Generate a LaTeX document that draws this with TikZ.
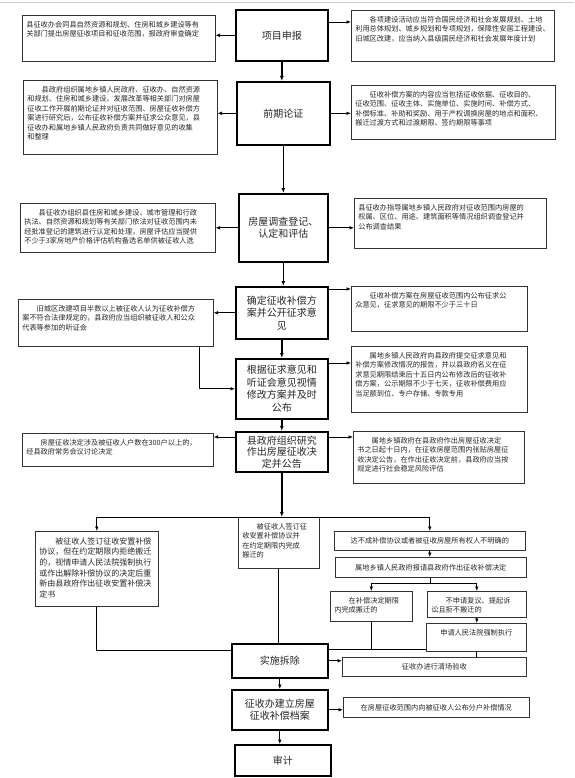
\documentclass[tikz,border=0pt]{standalone}
\usepackage{fontspec}
\newfontfamily\cjk{Noto Sans CJK SC}
\usetikzlibrary{arrows.meta}
\newcommand{\notetext}[3]{\parbox[t][\dimexpr#2pt-12pt\relax][t]{\dimexpr#1pt-8pt\relax}{#3}}
\newcommand{\ind}{\hspace*{2em}}
\hfuzz=50pt \vfuzz=50pt \hbadness=10000 \vbadness=10000

\begin{document}
\begin{tikzpicture}[x=1pt,y=-1pt,
    stage/.style={draw,line width=1.6pt,anchor=north west,inner sep=0pt,align=center,text=black!85,font=\cjk\fontsize{10}{12.5}\selectfont},
    note/.style={draw=black!80,line width=0.6pt,anchor=north west,inner xsep=4pt,inner ysep=6pt,text=black!85,font=\cjk\fontsize{7.2}{9.4}\selectfont},
    memo/.style={draw=black!80,line width=0.6pt,anchor=north west,inner sep=0pt,align=center,text=black!85,font=\cjk\fontsize{7.2}{9.4}\selectfont},
    link/.style={line width=0.7pt,-{Latex[length=4.5pt,width=3.6pt]}},
    spine/.style={line width=1.4pt,-{Latex[length=5pt,width=4pt]}},
    wire/.style={line width=0.7pt}
    ]
  \useasboundingbox (0,0) rectangle (574,778);
  \draw[black!20] (0,2) -- (574,2);

  \node(apply) [stage,minimum width=92pt,minimum height=51pt] at (235,9) {项目申报};
  \node(applyLeft) [note] at (22,15) {\notetext{193}{46}{县征收办会同县自然资源和规划、住房和城乡建设等有\\关部门提出房屋征收项目和征收范围，报政府审查确定}};
  \node(applyRight) [note] at (351,10) {\notetext{203}{51}{\ind 各项建设活动应当符合国民经济和社会发展规划、土地\\利用总体规划、城乡规划和专项规划，保障性安居工程建设、\\旧城区改建，应当纳入县级国民经济和社会发展年度计划}};

  \node(study) [stage,minimum width=93pt,minimum height=63pt] at (236,81) {前期论证};
  \node(studyLeft) [note] at (23,80) {\notetext{194}{74}{\ind 县政府组织属地乡镇人民政府、征收办、自然资源\\和规划、住房和城乡建设、发展改革等相关部门对房屋\\征收工作开展前期论证并对征收范围、房屋征收补偿方\\案进行研究后，公布征收补偿方案并征求公众意见，县\\征收办和属地乡镇人民政府负责共同做好意见的收集\\和整理}};
  \node(studyRight) [note] at (351,85) {\notetext{204}{54}{\ind 征收补偿方案的内容应当包括征收依据、征收目的、\\征收范围、征收主体、实施单位、实施时间、补偿方式、\\补偿标准、补助和奖励、用于产权调换房屋的地点和面积、\\搬迁过渡方式和过渡期限、签约期限等事项}};

  \node(survey) [stage,minimum width=89pt,minimum height=68pt] at (238,193) {房屋调查登记、\\认定和评估};
  \node(surveyLeft) [note] at (20,203) {\notetext{195}{49}{\ind 县征收办组织县住房和城乡建设、城市管理和行政\\执法、自然资源和规划等有关部门依法对征收范围内未\\经批准登记的建筑进行认定和处理，房屋评估应当提供\\不少于3家房地产价格评估机构备选名单供被征收人选}};
  \node(surveyRight) [note] at (354,198) {\notetext{192}{50}{县征收办指导属地乡镇人民政府对征收范围内房屋的\\权属、区位、用途、建筑面积等情况组织调查登记并\\公布调查结果}};

  \node(plan) [stage,minimum width=92pt,minimum height=52pt] at (235,286) {确定征收补偿方\\案并公开征求意\\见};
  \node(planRight) [note] at (351,286) {\notetext{176}{45}{\ind 征收补偿方案在房屋征收范围内公布征求公\\众意见，征求意见的期限不少于三十日}};
  \node(planLeft) [note] at (18,299) {\notetext{195}{47}{\ind 旧城区改建项目半数以上被征收人认为征收补偿方\\案不符合法律规定的，县政府应当组织被征收人和公众\\代表等参加的听证会}};

  \node(revise) [stage,minimum width=92pt,minimum height=60pt] at (235,358) {根据征求意见和\\听证会意见视情\\修改方案并及时\\公布};
  \node(reviseRight) [note] at (351,346) {\notetext{176}{66}{\ind 属地乡镇人民政府向县政府提交征求意见和\\补偿方案修改情况的报告，并以县政府名义在征\\求意见期限结束后十五日内公布修改后的征收补\\偿方案，公示期限不少于七天，征收补偿费用应\\当足额到位、专户存储、专款专用}};

  \node(decide) [stage,minimum width=92pt,minimum height=40pt,font=\cjk\fontsize{10}{11.5}\selectfont] at (235,431) {县政府组织研究\\作出房屋征收决\\定并公告};
  \node(decideLeft) [note] at (22,433) {\notetext{191}{33}{\ind 房屋征收决定涉及被征收人户数在300户以上的，\\经县政府常务会议讨论决定}};
  \node(decideRight) [note] at (353,431) {\notetext{171}{52}{\ind 属地乡镇政府在县政府作出房屋征收决定\\书之日起十日内，在征收房屋范围内张贴房屋征\\收决定公告，在作出征收决定前，县政府应当按\\规定进行社会稳定风险评估}};

  \node(signLeft) [note,font=\cjk\fontsize{8}{10.7}\selectfont] at (35,531) {\notetext{123}{75}{\ind 被征收人签订征收安置补偿\\协议，但在约定期限内拒绝搬迁\\的，视情申请人民法院强制执行\\或作出解除补偿协议的决定后重\\新由县政府作出征收安置补偿决\\定书}};
  \node(signMid) [note] at (238,517) {\notetext{81}{51}{\ind 被征收人签订征\\收安置补偿协议并\\在约定期限内完成\\搬迁的}};
  \node(noDeal) [memo,minimum width=191pt,minimum height=19pt] at (334,531) {达不成补偿协议或者被征收房屋所有权人不明确的};
  \node(report) [memo,minimum width=191pt,minimum height=20pt] at (335,557) {属地乡镇人民政府报请县政府作出征收补偿决定};
  \node(moved) [note] at (330,591) {\notetext{82}{30}{\ind 在补偿决定期限\\内完成搬迁的}};
  \node(refuse) [note] at (427,591) {\notetext{99}{26}{\ind 不申请复议、提起诉\\讼且拒不搬迁的}};
  \node(court) [note] at (426,623) {\notetext{100}{28}{\centering 申请人民法院强制执行}};

  \node(demolish) [stage,minimum width=96pt,minimum height=34pt] at (231,643) {实施拆除};
  \node(clearance) [memo,minimum width=184pt,minimum height=19pt] at (342,657) {征收办进行清场验收};
  \node(archive) [stage,minimum width=96pt,minimum height=40pt,font=\cjk\fontsize{10}{11.5}\selectfont] at (231,689) {征收办建立房屋\\征收补偿档案};
  \node(archiveRight) [memo,minimum width=186pt,minimum height=20pt] at (343,697) {在房屋征收范围内向被征收人公布分户补偿情况};
  \node(audit) [stage,minimum width=96pt,minimum height=31pt] at (234,744) {审计};

  \draw[link] (apply.west) -- (apply.west -| applyLeft.east);
  \draw[link] ([yshift=-13pt]apply.north east) coordinate (a1) -- (a1 -| applyRight.west);
  \draw[spine] (apply.south) -- (apply.south |- study.north);
  \draw[link] (study.west) -- (study.west -| studyLeft.east);
  \draw[link] (study.east) -- (study.east -| studyRight.west);
  \draw[spine] (study.south) -- (study.south |- survey.north);
  \draw[link] (survey.west) -- (survey.west -| surveyLeft.east);
  \draw[link] (survey.east) -- (survey.east -| surveyRight.west);
  \draw[spine] (survey.south) -- (survey.south |- plan.north);
  \draw[link] ([yshift=-3pt]plan.north east) coordinate (p1) -- (p1 -| planRight.west);
  \draw[link] (plan.west) -- (plan.west -| planLeft.east);
  \draw[spine] (plan.south) -- (plan.south |- revise.north);
  \draw[link] ([xshift=-14pt]planLeft.south east) |- (revise.west);
  \draw[link] ([yshift=-5pt]revise.north east) coordinate (r1) -- (r1 -| reviseRight.west);
  \draw[spine] (revise.south) -- (revise.south |- decide.north);
  \draw[link] ([yshift=-6pt]decide.north west) coordinate (d1) -- (d1 -| decideLeft.east);
  \draw[link] ([yshift=-6pt]decide.north east) coordinate (d2) -- (d2 -| decideRight.west);
  \draw[spine] (decide.south) -- (decide.south |- signMid.north);
  \draw[link] (signMid.north) -| (signLeft.north);
  \draw[link] (signMid.north) -| (noDeal.north);
  \draw[link] (noDeal.south) -- (noDeal.south |- report.north);
  \draw[link] (report.south) -- ++(0,6) -| (moved.north);
  \draw[link] (report.south) -- ++(0,6) -| (refuse.north);
  \draw[link] (refuse.south) -- (refuse.south |- court.north);
  \draw[wire] (signLeft.south) |- ([yshift=-7pt]demolish.north west);
  \draw[wire] (signMid.south) -- (signMid.south |- demolish.north);
  \draw[wire] ([yshift=-6pt]demolish.north east) coordinate (m1) -- (m1 -| court.west);
  \draw[wire] (moved.south) -- (moved.south |- m1);
  \draw[wire] (court.south) -- (court.south |- clearance.north);
  \draw[link] (demolish.east) -- (demolish.east -| clearance.west);
  \draw[link] (demolish.south) -- (demolish.south |- archive.north);
  \draw[link] (archive.east) -- (archive.east -| archiveRight.west);
  \draw[link] (archive.south) -- (archive.south |- audit.north);
\end{tikzpicture}
\end{document}
